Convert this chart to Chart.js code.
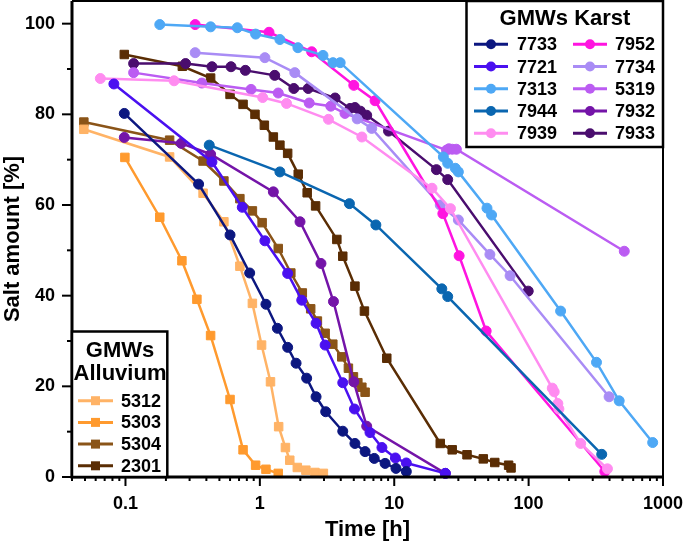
<!DOCTYPE html>
<html>
<head>
<meta charset="utf-8">
<script src="https://cdn.jsdelivr.net/npm/chart.js@4"></script>
<style>
 body { margin: 0; background: #fff; }
 canvas { display: block; }
</style>
</head>
<body>
<canvas id="chart" width="685" height="543"></canvas>
<script>
// values: time [h] and salt amount [%] for each well
const karstLabels = ["7733", "7721", "7313", "7944", "7939", "7952", "7734", "5319", "7932", "7933"];
const alluviumLabels = ["5312", "5303", "5304", "2301"];

const t7733 = [0.098, 0.35, 0.6, 0.84, 1.11, 1.35, 1.61, 1.86, 2.23, 2.62, 3.09, 4.14, 5.1, 6.07, 7.1, 8.55, 10.3, 12.3];
const s7733 = [80.2, 64.6, 53.4, 45, 38.1, 32.8, 28.6, 25.1, 21.8, 17.7, 14.4, 10.1, 7.4, 5.6, 4.1, 3.0, 1.9, 1.2];
const t7721 = [0.082, 0.44, 0.74, 1.09, 1.61, 2.05, 2.62, 3.06, 4.14, 5.06, 6.6, 8.1, 10.2, 12.3, 24];
const s7721 = [86.7, 69.5, 59.5, 52.1, 44.9, 39, 33.9, 29.1, 20.8, 15, 9.8, 6.5, 4.2, 3.1, 0.8];
const t7313 = [0.18, 0.43, 0.68, 0.93, 1.41, 1.92, 2.95, 3.5, 3.96, 23.2, 25, 28.5, 30, 49, 53, 173, 320, 472, 838];
const s7313 = [99.8, 99.3, 99.1, 97.7, 96.5, 94.7, 93, 91.4, 91.4, 70.6, 69.2, 68.1, 67.3, 59.3, 57.8, 36.6, 25.3, 16.8, 7.6];
const t7944 = [0.42, 1.41, 4.64, 7.3, 22.6, 25, 350];
const s7944 = [73.2, 67.3, 60.3, 55.6, 41.5, 39.8, 5];
const t7939 = [0.065, 0.23, 1.05, 1.58, 3.24, 5.74, 19.1, 26.2, 150, 155, 165, 168, 244, 386];
const s7939 = [87.9, 87.4, 83.7, 82.4, 78.9, 75, 63.7, 59.2, 19.6, 18.8, 16.2, 15, 7.4, 1.8];
const t7952 = [0.33, 1.17, 2.43, 5.0, 7.2, 23, 30.4, 48.3, 369];
const s7952 = [99.8, 98.1, 93.8, 86.4, 83, 58.1, 48.8, 32.2, 1.2];
const t7734 = [0.33, 1.09, 1.82, 5.3, 6.8, 22, 30, 51.5, 72.8, 397];
const s7734 = [93.6, 92.5, 89.2, 79, 76.9, 60, 56.7, 49.1, 44.4, 17.7];
const t5319 = [0.115, 0.37, 0.86, 1.37, 2.33, 3.37, 4.3, 24.5, 25.5, 27, 29, 515];
const s5319 = [89.2, 86.9, 85.5, 84.7, 82.5, 81.8, 80.2, 72.1, 72.4, 72.3, 72.3, 49.8];
const t7932 = [0.098, 0.26, 0.43, 1.26, 1.99, 2.85, 3.53, 5.0, 6.24, 24];
const s7932 = [74.9, 73.6, 71.2, 62.9, 56.3, 47.1, 38.7, 21, 11.2, 0.8];
const t7933 = [0.115, 0.28, 0.44, 0.61, 0.78, 1.29, 1.79, 2.29, 3.63, 4.69, 5.1, 5.6, 6.24, 9.07, 20.6, 25, 99.3];
const s7933 = [91.2, 91.2, 90.5, 90.5, 89.7, 88.6, 85.7, 85.7, 83.6, 81.3, 81.5, 80.7, 79.8, 76.3, 67.8, 65.6, 41];

const t5312 = [0.049, 0.213, 0.378, 0.54, 0.71, 0.88, 1.03, 1.2, 1.38, 1.55, 1.67, 1.9, 2.2, 2.57, 2.97];
const s5312 = [76.7, 70.6, 62.6, 56.3, 46.5, 38.3, 29.1, 21, 11.1, 6.5, 3.7, 2.1, 1.5, 1.0, 0.8];
const t5303 = [0.099, 0.18, 0.263, 0.34, 0.43, 0.6, 0.75, 0.93, 1.11, 1.37];
const s5303 = [70.5, 57.3, 47.7, 39.2, 31.2, 17.1, 6, 2.6, 1.7, 0.8];
const t5304 = [0.049, 0.213, 0.378, 0.54, 0.71, 0.88, 1.04, 1.37, 1.7, 2.07, 2.39, 2.68, 3.06, 3.49, 4.07, 4.56, 4.97, 5.36, 5.74, 6.07];
const s5304 = [78.3, 74.3, 69.7, 65.3, 61.4, 58.7, 56.1, 50.4, 45, 40.6, 37.1, 34.4, 31.7, 29.3, 26.5, 24, 22.1, 20.8, 19.8, 18.7];
const t2301 = [0.098, 0.265, 0.43, 0.6, 0.75, 0.92, 1.08, 1.26, 1.41, 1.61, 1.93, 2.25, 2.6, 3.74, 4.14, 5.1, 6.0, 8.8, 22, 27, 34.8, 46, 56, 71, 74];
const s2301 = [93.2, 90.6, 88, 84.4, 82.2, 80, 77.6, 75, 73.2, 71.4, 66.8, 62.7, 59.8, 52.4, 48.7, 42.1, 36.6, 26.2, 7.4, 6, 4.9, 4, 3.2, 2.6, 2];

const xTickLabels = [0.1, 1, 10, 100, 1000];
const yTickLabels = [0, 20, 40, 60, 80, 100];

const karstColors = ["#0c1780", "#4a10f0", "#4ea8f5", "#0a66b0", "#ff8cf0", "#ff14e0", "#a98cf5", "#bb5cf2", "#7414a8", "#4a0d6e"];
const alluviumColors = ["#ffb366", "#ff9a2e", "#8a5418", "#5a2d04"];

const karstTimes = [t7733, t7721, t7313, t7944, t7939, t7952, t7734, t5319, t7932, t7933];
const karstSalt = [s7733, s7721, s7313, s7944, s7939, s7952, s7734, s5319, s7932, s7933];
const alluviumTimes = [t5312, t5303, t5304, t2301];
const alluviumSalt = [s5312, s5303, s5304, s2301];

const FONT = "'Liberation Sans', Arial, sans-serif";

const makeSet = (label, color, times, salt, style) => ({
 label,
 data: times.map((t, i) => ({ x: t, y: salt[i] })),
 borderColor: color,
 backgroundColor: color,
 pointBackgroundColor: color,
 pointBorderColor: color,
 borderWidth: 2.5,
 pointBorderWidth: 1,
 pointStyle: style,
 pointRadius: style === "rect" ? 6 : 5,
 clip: false,
 group: style === "rect" ? "alluvium" : "karst",
});

const datasets = [
 ...karstLabels.map((l, i) => makeSet(l, karstColors[i], karstTimes[i], karstSalt[i], "circle")),
 ...alluviumLabels.map((l, i) => makeSet(l, alluviumColors[i], alluviumTimes[i], alluviumSalt[i], "rect")),
];

// frame, tick marks and the two boxed legends
const decorations = {
 id: "decorations",
 afterDraw(chart) {
  const { ctx, chartArea: a, scales } = chart;
  const xs = scales.x, ys = scales.y;
  ctx.save();
  ctx.strokeStyle = "#000";
  ctx.lineCap = "butt";

  // y ticks
  ctx.lineWidth = 2;
  for (let v = 0; v <= 100; v += 10) {
   const y = ys.getPixelForValue(v);
   const len = v % 20 === 0 ? 10 : 5;
   ctx.beginPath();
   ctx.moveTo(a.left - len, y);
   ctx.lineTo(a.left, y);
   ctx.stroke();
  }
  // x ticks
  for (let d = -2; d <= 3; d++) {
   for (let m = 1; m <= 9; m++) {
    const v = m * Math.pow(10, d);
    if (v < 0.04 || v > 1000) continue;
    const x = xs.getPixelForValue(v);
    const len = m === 1 ? 9 : 4;
    ctx.beginPath();
    ctx.moveTo(x, a.bottom);
    ctx.lineTo(x, a.bottom + len);
    ctx.stroke();
   }
  }
  // frame
  ctx.lineWidth = 2;
  ctx.beginPath();
  ctx.moveTo(a.left, a.top);
  ctx.lineTo(a.right, a.top);
  ctx.lineTo(a.right, a.bottom);
  ctx.stroke();
  ctx.lineWidth = 3;
  ctx.beginPath();
  ctx.moveTo(a.left, a.top);
  ctx.lineTo(a.left, a.bottom);
  ctx.lineTo(a.right + 1, a.bottom);
  ctx.stroke();

  const sets = chart.data.datasets;
  const entry = (ds, x1, x2, y, tx) => {
   ctx.strokeStyle = ds.borderColor;
   ctx.lineWidth = 3;
   ctx.beginPath();
   ctx.moveTo(x1, y);
   ctx.lineTo(x2, y);
   ctx.stroke();
   ctx.fillStyle = ds.borderColor;
   const cx = (x1 + x2) / 2;
   ctx.beginPath();
   if (ds.pointStyle === "rect") ctx.rect(cx - 4.5, y - 4.5, 9, 9);
   else ctx.arc(cx, y, 5, 0, Math.PI * 2);
   ctx.fill();
   ctx.fillStyle = "#000";
   ctx.font = "bold 18px " + FONT;
   ctx.textAlign = "left";
   ctx.textBaseline = "middle";
   ctx.fillText(ds.label, tx, y + 1);
  };

  // Karst legend
  ctx.fillStyle = "#fff";
  ctx.strokeStyle = "#000";
  ctx.lineWidth = 2.5;
  ctx.fillRect(466.5, a.top, a.right - 466.5, 146);
  ctx.strokeRect(466.5, a.top, a.right - 466.5, 146);
  ctx.fillStyle = "#000";
  ctx.font = "bold 22px " + FONT;
  ctx.textAlign = "center";
  ctx.textBaseline = "middle";
  ctx.fillText("GMWs Karst", 565, 19);
  const karst = sets.filter((d) => d.group === "karst");
  karst.forEach((ds, i) => {
   const col = Math.floor(i / 5), row = i % 5;
   const y = 44.3 + row * 22.25;
   if (col === 0) entry(ds, 474, 508, y, 517);
   else entry(ds, 573, 607, y, 615);
  });

  // Alluvium legend
  ctx.fillStyle = "#fff";
  ctx.strokeStyle = "#000";
  ctx.lineWidth = 2.5;
  ctx.fillRect(a.left, 331.5, 167.3 - a.left, a.bottom - 331.5);
  ctx.strokeRect(a.left, 331.5, 167.3 - a.left, a.bottom - 331.5);
  ctx.fillStyle = "#000";
  ctx.font = "bold 22px " + FONT;
  ctx.textAlign = "center";
  ctx.textBaseline = "middle";
  ctx.fillText("GMWs", 120, 351);
  ctx.fillText("Alluvium", 120, 374);
  const alluvium = sets.filter((d) => d.group === "alluvium");
  alluvium.forEach((ds, i) => {
   entry(ds, 78, 113, 400.7 + i * 21.7, 121);
  });
  ctx.restore();
 },
};

const tickFont = { family: FONT, size: 18, weight: "bold" };
const titleFont = { family: FONT, size: 22, weight: "bold" };

new Chart(document.getElementById("chart").getContext("2d"), {
 type: "line",
 data: { datasets },
 options: {
  responsive: false,
  animation: false,
  layout: { autoPadding: false, padding: { top: 1, right: 22, left: 0, bottom: 0 } },
  plugins: { legend: { display: false }, tooltip: { enabled: false } },
  scales: {
   x: {
    type: "logarithmic",
    min: 0.04,
    max: 1000,
    afterFit: (s) => { s.height = 66; s.paddingLeft = 0; s.paddingRight = 0; },
    afterBuildTicks: (s) => { s.ticks = xTickLabels.map((v) => ({ value: v })); },
    grid: { display: false, drawTicks: true, tickLength: 8 },
    border: { display: false },
    ticks: {
     font: tickFont, color: "#000", padding: 8, maxRotation: 0, autoSkip: false,
     callback: (v) => String(v),
    },
    title: { display: true, text: "Time [h]", font: titleFont, color: "#000", padding: { top: 0, bottom: 0 } },
   },
   y: {
    min: 0,
    max: 105,
    afterFit: (s) => { s.width = 72; s.paddingTop = 0; s.paddingBottom = 0; },
    afterBuildTicks: (s) => { s.ticks = yTickLabels.map((v) => ({ value: v })); },
    grid: { display: false, drawTicks: true, tickLength: 10 },
    border: { display: false },
    ticks: { font: tickFont, color: "#000", padding: 7 },
    title: { display: true, text: "Salt amount [%]", font: titleFont, color: "#000", padding: { top: 0, bottom: 0 } },
   },
  },
 },
 plugins: [decorations],
});
</script>
</body>
</html>
